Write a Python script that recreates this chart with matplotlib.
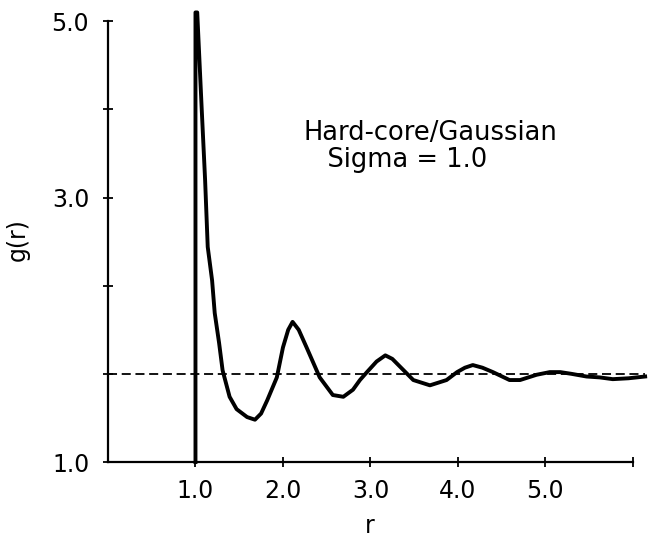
import matplotlib
matplotlib.use("Agg")
import matplotlib.pyplot as plt

# g(r) curve (y in axis tick units; dashed line at 1.0)
r_vals = [1.0, 1.0, 1.02, 1.07, 1.11, 1.14, 1.19, 1.22, 1.27, 1.31, 1.39, 1.47,
          1.59, 1.68, 1.75, 1.82, 1.93, 2.00, 2.06, 2.11, 2.18, 2.27, 2.42, 2.57,
          2.69, 2.80, 2.88, 2.96, 3.07, 3.17, 3.25, 3.34, 3.49, 3.68, 3.87, 3.99,
          4.08, 4.17, 4.28, 4.40, 4.59, 4.71, 4.90, 5.05, 5.17, 5.30, 5.47, 5.62,
          5.77, 5.95, 6.14]
g_vals = [0.0, 5.10, 5.10, 4.03, 3.20, 2.44, 2.06, 1.69, 1.35, 1.04, 0.74, 0.60,
          0.51, 0.48, 0.55, 0.70, 0.96, 1.30, 1.50, 1.59, 1.50, 1.30, 0.96, 0.76,
          0.74, 0.82, 0.93, 1.02, 1.14, 1.21, 1.17, 1.08, 0.93, 0.87, 0.93, 1.02,
          1.07, 1.10, 1.07, 1.02, 0.93, 0.93, 0.99, 1.02, 1.02, 1.00, 0.97, 0.96,
          0.94, 0.95, 0.97]

ref_level = 1.0
x_ticks = [1, 2, 3, 4, 5, 6]
x_ticklabels = ["1.0", "2.0", "3.0", "4.0", "5.0", ""]
y_ticks = [0, 1, 2, 3, 4, 5]
y_ticklabels = ["1.0", "", "", "3.0", "", "5.0"]
annotation = "Hard-core/Gaussian\n   Sigma = 1.0"

plt.rcParams['font.family'] = ['DejaVu Sans']

fig = plt.figure(figsize=(6.49, 5.46), dpi=100)
ax = fig.add_axes([0.1664, 0.1538, 0.8290, 0.8315])

ax.plot(r_vals, g_vals, color='black', lw=2.8, solid_joinstyle='round', clip_on=False, zorder=3)
ax.plot([0, r_vals[-1]], [ref_level, ref_level], color='black', lw=1.3,
        linestyle=(0, (5, 2.6)), zorder=2)

ax.set_xlim(0, 6.15)
ax.set_ylim(0, 5.15)
for s in ['top', 'right']:
    ax.spines[s].set_visible(False)
ax.spines['left'].set_bounds(0, 5)
ax.spines['bottom'].set_bounds(0, 6)
ax.spines['left'].set_linewidth(1.6)
ax.spines['bottom'].set_linewidth(1.6)

ax.set_xticks(x_ticks)
ax.set_xticklabels(x_ticklabels)
ax.set_yticks(y_ticks)
ax.set_yticklabels(y_ticklabels)
ax.tick_params(direction='inout', length=7, width=1.3, labelsize=17, colors='black')
ax.tick_params(axis='y', pad=10)
ax.tick_params(axis='x', pad=9)

ax.set_xlabel("r", fontsize=17)
ax.set_ylabel("g(r)", fontsize=17)
ax.xaxis.set_label_coords(0.487, -0.115)
ax.yaxis.set_label_coords(-0.145, 0.49)

ax.text(2.23, 3.58, annotation, fontsize=18.5, ha='left', va='center', linespacing=1.05)

fig.savefig("out.png", dpi=100)
